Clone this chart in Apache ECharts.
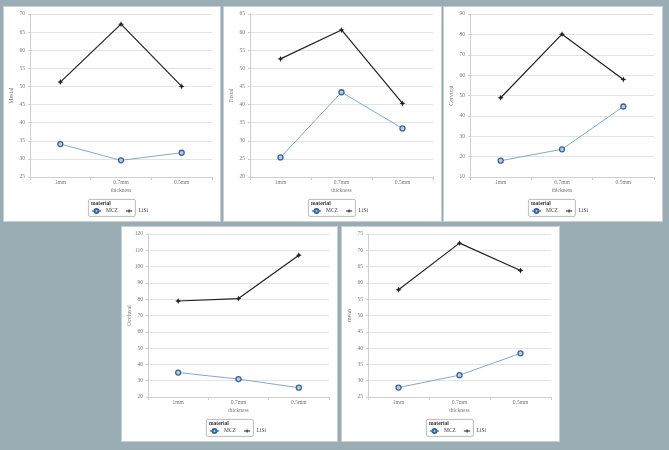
<!DOCTYPE html>
<html>
<head>
<meta charset="utf-8">
<script src="https://cdn.jsdelivr.net/npm/echarts@6/dist/echarts.min.js"></script>
<style>
  html, body { margin: 0; padding: 0; }
  body { width: 669px; height: 450px; background: #9aadb4; position: relative; overflow: hidden; }
  .panel { position: absolute; background: #ffffff; box-sizing: border-box; border: 1px solid #c9d0d4; }
</style>
</head>
<body>
<div id="p1" class="panel" style="left:3px;top:6px;width:218px;height:216px;"></div>
<div id="p2" class="panel" style="left:223px;top:6px;width:219px;height:216px;"></div>
<div id="p3" class="panel" style="left:443px;top:6px;width:220px;height:216px;"></div>
<div id="p4" class="panel" style="left:121px;top:226px;width:217px;height:216px;"></div>
<div id="p5" class="panel" style="left:341px;top:226px;width:219px;height:216px;"></div>
<script>
const categories = ['1mm', '0.7mm', '0.5mm'];
const xTitle = 'thickness';
const legendTitle = 'material';
const seriesNames = ['MCZ', 'LiSi'];

const yTitles = ['Mesial', 'Distal', 'Cervical', 'Occlusal', 'mean'];

const mczMesial = [34.1, 29.6, 31.7];
const lisiMesial = [51.2, 67.2, 50.0];
const mczDistal = [25.4, 43.4, 33.4];
const lisiDistal = [52.6, 60.6, 40.3];
const mczCervical = [18.0, 23.6, 44.6];
const lisiCervical = [48.9, 80.1, 57.9];
const mczOcclusal = [35.0, 31.0, 25.7];
const lisiOcclusal = [78.9, 80.4, 107.0];
const mczMean = [27.9, 31.7, 38.4];
const lisiMean = [57.9, 72.2, 63.8];

const yMins = [25, 20, 10, 20, 25];
const yMaxs = [70, 65, 90, 120, 75];
const yIntervals = [5, 5, 10, 10, 5];

const mczData = [mczMesial, mczDistal, mczCervical, mczOcclusal, mczMean];
const lisiData = [lisiMesial, lisiDistal, lisiCervical, lisiOcclusal, lisiMean];

const starPath = 'path://M0,-10 L3,-3 L10,0 L3,3 L0,10 L-3,3 L-10,0 L-3,-3 Z';
const legendLisiIcon = 'path://M0,-0.8 L10,-0.8 L10,0.8 L0,0.8 Z M5,-4 L5.9,-0.9 L9,0 L5.9,0.9 L5,4 L4.1,0.9 L1,0 L4.1,-0.9 Z';
const fontFam = '"Liberation Serif", "DejaVu Serif", serif';

function build(i) {
  const el = document.getElementById('p' + (i + 1));
  const chart = echarts.init(el, null, { renderer: 'canvas' });
  const legX = 84;
  const legY = 192;
  chart.setOption({
    animation: false,
    backgroundColor: '#ffffff',
    textStyle: { fontFamily: fontFam },
    grid: { left: 26, right: 8, top: 7, bottom: 44, containLabel: false, outerBoundsMode: 'none' },
    xAxis: {
      type: 'category',
      data: categories,
      boundaryGap: true,
      name: xTitle,
      nameLocation: 'middle',
      nameGap: 11,
      nameMoveOverlap: false,
      nameTextStyle: { fontSize: 5.5, color: '#777', fontFamily: fontFam },
      axisLine: { lineStyle: { color: '#cfcfcf', width: 1 } },
      axisTick: { show: true, length: 3, lineStyle: { color: '#cfcfcf' } },
      axisLabel: { fontSize: 5.5, color: '#777', margin: 3, fontFamily: fontFam },
      splitLine: { show: false }
    },
    yAxis: {
      type: 'value',
      min: yMins[i],
      max: yMaxs[i],
      interval: yIntervals[i],
      name: yTitles[i],
      nameLocation: 'middle',
      nameRotate: 90,
      nameGap: 16,
      nameMoveOverlap: false,
      nameTextStyle: { fontSize: 6, color: '#777', fontFamily: fontFam },
      axisLine: { show: true, lineStyle: { color: '#cfcfcf', width: 1 } },
      axisTick: { show: true, length: 2, lineStyle: { color: '#cfcfcf' } },
      axisLabel: { fontSize: 5.5, color: '#777', margin: 5, fontFamily: fontFam },
      splitLine: { show: true, lineStyle: { color: '#e3e3e3', width: 1 } }
    },
    legend: {
      left: legX + 3,
      top: legY + 9,
      itemWidth: 9,
      itemHeight: 5,
      itemGap: 8,
      padding: 0,
      textStyle: { fontSize: 5.5, color: '#444', fontFamily: fontFam },
      data: [
        { name: seriesNames[0] },
        { name: seriesNames[1], icon: legendLisiIcon, itemStyle: { color: '#222222' } }
      ]
    },
    graphic: [
      {
        type: 'rect',
        left: legX,
        top: legY,
        shape: { width: 47, height: 17, r: 1.5 },
        style: { fill: '#ffffff', stroke: '#a9a9a9', lineWidth: 0.8 },
        z: -1
      },
      {
        type: 'text',
        left: legX + 3,
        top: legY + 2,
        style: { text: legendTitle, fontSize: 5.5, fontWeight: 'bold', fill: '#333', fontFamily: fontFam }
      }
    ],
    series: [
      {
        name: seriesNames[0],
        type: 'line',
        data: mczData[i],
        symbol: 'circle',
        symbolSize: 5,
        lineStyle: { color: '#86a8c8', width: 1 },
        itemStyle: { color: '#b9cde3', borderColor: '#3a6494', borderWidth: 1.3 }
      },
      {
        name: seriesNames[1],
        type: 'line',
        data: lisiData[i],
        symbol: starPath,
        symbolSize: 6,
        lineStyle: { color: '#222222', width: 1.2 },
        itemStyle: { color: '#222222' }
      }
    ]
  });
}
for (let i = 0; i < 5; i++) build(i);
</script>
</body>
</html>
